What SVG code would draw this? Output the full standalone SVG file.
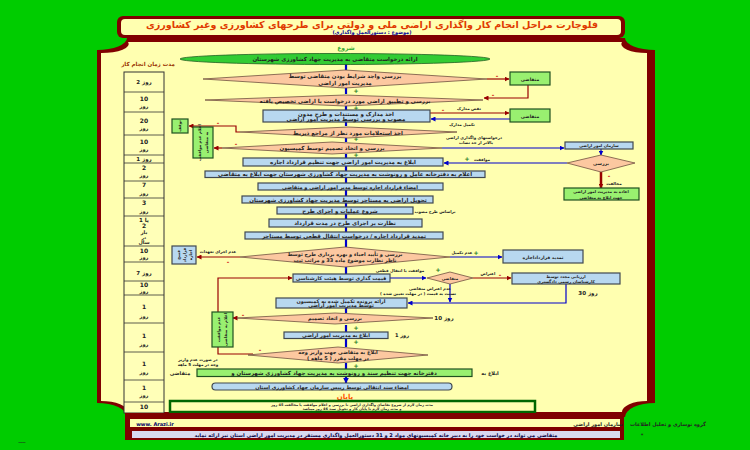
<svg xmlns="http://www.w3.org/2000/svg" width="750" height="450" viewBox="0 0 750 450">
<defs>
<style>
text{font-family:"DejaVu Sans",sans-serif;text-anchor:middle;font-weight:bold;fill:#222}
.f4{font-size:4px}.f45{font-size:4.5px}.f5{font-size:5px}.f55{font-size:5.5px}.f6{font-size:6px}
.dia{fill:#fcc8a0;stroke:#705040;stroke-width:0.8}
.rb{fill:#b8d8f0;stroke:#404850;stroke-width:1.2}
.gb{fill:#99f070;stroke:#205020;stroke-width:1.2}
.bl{fill:none;stroke:#0000cc;stroke-width:1.2}
.bc{fill:none;stroke:#0000cc;stroke-width:2.2}
.rd{fill:none;stroke:#990000;stroke-width:1.2}
.plus{fill:#227722;font-size:6px}
.minus{fill:#cc0000;font-size:6px}
.tl{fill:none;stroke:#333;stroke-width:0.8}
</style>
<marker id="ab" viewBox="0 0 10 10" refX="9" refY="5" markerWidth="5" markerHeight="5" markerUnits="userSpaceOnUse" orient="auto"><path d="M0,0 L10,5 L0,10 z" fill="#0000cc"/></marker>
<marker id="abc" viewBox="0 0 10 10" refX="9" refY="5" markerWidth="6" markerHeight="7" markerUnits="userSpaceOnUse" orient="auto"><path d="M0,0 L10,5 L0,10 z" fill="#0000cc"/></marker>
<marker id="ar" viewBox="0 0 10 10" refX="9" refY="5" markerWidth="5" markerHeight="5" markerUnits="userSpaceOnUse" orient="auto"><path d="M0,0 L10,5 L0,10 z" fill="#990000"/></marker>
</defs>
<rect x="0" y="0" width="750" height="450" fill="#00cc00"/>
<g id="frame">
<path d="M127,38 L625,38 A30 12 0 0 0 655 50 L655 403 A30 14 0 0 0 625 417 L127 417 A30 14 0 0 0 97 403 L97 50 A30 12 0 0 0 127 38 Z" fill="#800000"/>
<path d="M128,42 L622,42 A25 9 0 0 0 647 53 L647 401 A25 11 0 0 0 622 412 L128 412 A27 11 0 0 0 101 401 L101 53 A27 9 0 0 0 128 42 Z" fill="#ffffb0"/>
<rect x="117" y="16" width="508" height="22" rx="6" fill="#800000"/>
<rect x="121" y="19" width="500" height="16" rx="4" fill="#ffffb0"/>
<text x="372" y="27.8" style="font-size:9.6px;fill:#e03a00">فلوچارت مراحل انجام کار واگذاری اراضی ملی و دولتی برای طرحهای کشاورزی وغیر کشاورزی</text>
<text x="372" y="33.6" style="font-size:5px;fill:#000099">(موضوع : دستورالعمل واگذاری)</text>
</g>
<g id="timeline">
<text x="148" y="66" class="f55" style="fill:#993300">مدت زمان انجام کار</text>
<rect x="124" y="72" width="40" height="341" fill="#ffffb8" stroke="#333" stroke-width="1"/>
<path class="tl" d="M124,92H164M124,112H164M124,135H164M124,155H164M124,163H164M124,181H164M124,198H164M124,216H164M124,246H164M124,262H164M124,281H164M124,295H164M124,323H164M124,352H164M124,380H164M124,402H164"/>
<text x="144" y="84" class="f55">2 روز</text>
<text x="144" y="101" class="f6">10</text><text x="144" y="108" class="f5">روز</text>
<text x="144" y="123" class="f6">20</text><text x="144" y="130" class="f5">روز</text>
<text x="144" y="144" class="f6">10</text><text x="144" y="151" class="f5">روز</text>
<text x="144" y="161" class="f55">1 روز</text>
<text x="144" y="170" class="f6">2</text><text x="144" y="177" class="f5">روز</text>
<text x="144" y="187" class="f6">7</text><text x="144" y="195" class="f5">روز</text>
<text x="144" y="205" class="f6">3</text><text x="144" y="213" class="f5">روز</text>
<text x="144" y="222" class="f55">1 یا</text><text x="144" y="228" class="f6">2</text><text x="144" y="234" class="f5">بار</text><text x="144" y="238.5" class="f4">در</text><text x="144" y="243.5" class="f5">سال</text>
<text x="144" y="253" class="f6">10</text><text x="144" y="259" class="f5">روز</text>
<text x="144" y="275" class="f55">7 روز</text>
<text x="144" y="287" class="f6">10</text><text x="144" y="293" class="f5">روز</text>
<text x="144" y="309" class="f6">1</text><text x="144" y="318" class="f5">روز</text>
<text x="144" y="338" class="f6">1</text><text x="144" y="346" class="f5">روز</text>
<text x="144" y="366" class="f6">1</text><text x="144" y="374" class="f5">روز</text>
<text x="144" y="390" class="f6">1</text><text x="144" y="397" class="f5">روز</text>
<text x="144" y="409" class="f6">10</text>
</g>
<g id="connectors">
<path class="bc" marker-end="url(#abc)" d="M346,64V70M346,88V94M346,106V110M346,122V126M346,138V142M346,154V158M346,166V171M346,177V183M346,190V196M346,203V207M346,214V219M346,227V232M346,239V247M346,267V274M346,308V313M346,325V332M346,338V347M346,363V369M346,377V383"/>
<path class="rd" marker-end="url(#ar)" d="M487,79H509"/>
<path class="rd" marker-end="url(#ar)" d="M528,85V98H484"/>
<path class="rd" marker-end="url(#ar)" d="M430,113H509"/>
<path class="bl" marker-end="url(#ab)" d="M510,119H431"/>
<path class="rd" marker-end="url(#ar)" d="M240,132H236V126H189"/>
<path class="rd" marker-end="url(#ar)" d="M222,148H214"/>
<path class="bl" marker-end="url(#ab)" d="M442,148H564"/>
<path class="bl" marker-end="url(#ab)" d="M601,149V155"/>
<path class="bl" marker-end="url(#ab)" d="M567,163H444"/>
<path fill="none" stroke="#990000" stroke-width="2.5" marker-end="url(#ar)" d="M601,172V188"/>
<path class="rd" marker-end="url(#ar)" d="M240,257H197"/>
<path class="bl" marker-end="url(#ab)" d="M450,257H502"/>
<path class="bl" marker-end="url(#ab)" d="M390,278H426"/>
<path class="rd" marker-end="url(#ar)" d="M473,278H511"/>
<path class="bl" marker-end="url(#ab)" d="M566,284V303H408"/>
<path class="bl" stroke-width="2" marker-end="url(#ab)" d="M450,284V302"/>
<path class="rd" stroke-width="2" marker-end="url(#ar)" d="M253,354H218V278H292"/>
<path class="rd" marker-end="url(#ar)" d="M237,318H233"/>
<text x="356" y="93" class="plus">+</text>
<text x="356" y="110" class="plus">+</text>
<text x="356" y="141" class="plus">+</text>
<text x="356" y="157" class="plus">+</text>
<text x="356" y="330" class="plus">+</text>
<text x="356" y="344" class="plus">+</text>
<text x="356" y="368" class="plus">+</text>
<text x="497" y="78" class="minus">-</text>
<text x="493" y="97" class="minus">-</text>
<text x="443" y="112" class="minus">-</text>
<text x="218" y="125" class="minus">-</text>
<text x="236" y="146" class="minus">-</text>
<text x="609" y="178" class="minus">-</text>
<text x="228" y="264" class="minus">-</text>
<text x="500" y="277" class="minus">-</text>
<text x="260" y="352" class="minus">-</text>
<text x="243" y="317" class="minus">-</text>
<text x="469" y="110" class="f4">نقص مدارک</text>
<text x="462" y="126" class="f4">تکمیل مدارک</text>
<text x="474" y="139" class="f4">درخواستهای  واگذاری اراضی</text>
<text x="476" y="144" class="f4">بالاتر از حد نصاب</text>
<text x="482" y="161" class="f4">موافقت</text>
<text x="467" y="161" class="plus">+</text>
<text x="614" y="185" class="f4">مخالفت</text>
<text x="218" y="253" class="f4">عدم اجرای تعهدات</text>
<text x="462" y="254" class="f4">عدم تکمیل</text>
<text x="476" y="255" class="plus">+</text>
<text x="400" y="271.5" class="f4">موافقت با انتقال قطعی</text>
<text x="438" y="271.5" class="plus">+</text>
<text x="488" y="275" class="f4">اعتراض</text>
<text x="430" y="290" class="f4">عدم اعتراض متقاضی</text>
<text x="418" y="295" class="f4">نسبت به قیمت ( در مهلت تعیین شده )</text>
<text x="588" y="295" class="f55">30 روز</text>
<text x="435" y="213" class="f4">براساس طرح مصوب</text>
<text x="444" y="320" class="f55">10 روز</text>
<text x="402" y="337" class="f5">1 روز</text>
<text x="198" y="361" class="f4">در صورت عدم واریز</text>
<text x="198" y="366" class="f4">وجه در مهلت 5 ماهه</text>
</g>
<g id="n-start"><text x="346" y="50" style="font-size:6px;fill:#33aa33">شروع</text>
<ellipse cx="335" cy="59" rx="155" ry="5.5" fill="#33cc33" stroke="#206020" stroke-width="0.8"/>
<text x="335" y="61" class="f55">ارائه درخواست متقاضی به مدیریت جهاد کشاورزی شهرستان</text></g>
<g id="n-d1"><polygon class="dia" points="203,79 345,70 487,79 345,88"/>
<text x="345" y="78" class="f55">بررسی واجد شرایط بودن متقاضی توسط</text><text x="345" y="84.5" class="f55">مدیریت امور اراضی</text></g>
<g id="n-m1"><rect class="gb" x="510" y="72" width="40" height="13"/><text x="530" y="80.5" class="f45">متقاضی</text></g>
<g id="n-d2"><polygon class="dia" points="205,100 345,95 483,100 345,106"/>
<text x="345" y="102.5" class="f55">بررسی و تطبیق اراضی مورد درخواست با اراضی تخصیص یافته</text></g>
<g id="n-r3"><rect class="rb" x="263" y="110" width="167" height="12"/>
<text x="346" y="115.5" class="f55">اخذ مدارک و مستندات و طرح مدون</text><text x="346" y="121" class="f55">مصوب و بررسی توسط مدیریت امور اراضی</text></g>
<g id="n-m2"><rect class="gb" x="510" y="109" width="40" height="13"/><text x="530" y="117.5" class="f45">متقاضی</text></g>
<g id="n-d4"><polygon class="dia" points="240,132 348,127 457,132 348,138"/>
<text x="348" y="134.5" class="f55">اخذ استعلامات مورد نظر از مراجع ذیربط</text></g>
<g id="n-a"><rect class="gb" x="172" y="119" width="16" height="14"/><text transform="translate(181,126) rotate(-90)" class="f4">توقف</text></g>
<g id="n-d5"><polygon class="dia" points="222,148 332,142 442,148 332,154"/>
<text x="332" y="150" class="f55">بررسی و اتخاذ تصمیم توسط کمیسیون</text></g>
<g id="n-b"><rect class="gb" x="193" y="127" width="20" height="31"/><text transform="translate(201,142.5) rotate(-90)" class="f4">اعلام عدم موافقت</text><text transform="translate(208,142.5) rotate(-90)" class="f4">به متقاضی</text></g>
<g id="n-org"><rect class="rb" x="565" y="142" width="68" height="7"/><text x="599" y="147.3" class="f4">سازمان امور اراضی</text></g>
<g id="n-chk"><polygon class="dia" points="567,163 601,155 635,163 601,172"/><text x="601" y="165" class="f45">بررسی</text></g>
<g id="n-ret"><rect class="gb" x="564" y="188" width="75" height="12"/><text x="601" y="193" class="f4">اعاده به مدیریت امور اراضی</text><text x="601" y="198.5" class="f4">جهت ابلاغ به متقاضی</text></g>
<g id="n-r6"><rect class="rb" x="243" y="158" width="200" height="8"/><text x="343" y="164" class="f55">ابلاغ به مدیریت امور اراضی جهت تنظیم قرارداد اجاره</text></g>
<g id="n-r7"><rect class="rb" x="205" y="171" width="280" height="6.5"/><text x="345" y="176.3" class="f55">اعلام به دفترخانه عامل و رونوشت به مدیریت جهاد کشاورزی شهرستان جهت ابلاغ به متقاضی</text></g>
<g id="n-r8"><rect class="rb" x="258" y="183" width="185" height="7"/><text x="350" y="188.6" class="f5">امضاء قرارداد اجاره توسط مدیر امور اراضی و متقاضی</text></g>
<g id="n-r9"><rect class="rb" x="242" y="196" width="191" height="7"/><text x="338" y="201.6" class="f55">تحویل اراضی به مستاجر توسط مدیریت جهاد کشاورزی شهرستان</text></g>
<g id="n-r10"><rect class="rb" x="277" y="207" width="136" height="7"/><text x="340" y="212.6" class="f55">شروع عملیات و اجرای طرح</text></g>
<g id="n-r11"><rect class="rb" x="269" y="219" width="153" height="8"/><text x="345" y="225" class="f55">نظارت بر اجرای طرح در مدت قرارداد</text></g>
<g id="n-r12"><rect class="rb" x="245" y="232" width="198" height="7"/><text x="344" y="237.6" class="f55">تمدید قرارداد اجاره / درخواست انتقال قطعی توسط مستاجر</text></g>
<g id="n-d13"><polygon class="dia" points="240,257 345,247 450,257 345,267"/>
<text x="345" y="256" class="f5">بررسی و تأیید احیاء و بهره برداری طرح توسط</text><text x="345" y="262" class="f5">ناظر نظارت موضوع ماده 33 و مراتب ثبت</text></g>
<g id="n-c"><rect class="rb" x="172" y="246" width="24" height="18"/><text transform="translate(180,255) rotate(-90)" class="f4">فسخ</text><text transform="translate(186,255) rotate(-90)" class="f4">قرارداد</text><text transform="translate(192,255) rotate(-90)" class="f4">اجاره</text></g>
<g id="n-ext"><rect class="rb" x="503" y="250" width="80" height="13"/><text x="543" y="258.5" class="f45">تمدید قرارداداجاره</text></g>
<g id="n-r14"><rect class="rb" x="293" y="274" width="97" height="8"/><text x="341" y="280" class="f5">قیمت گذاری توسط هیئت کارشناسی</text></g>
<g id="n-d14"><polygon class="dia" points="427,278 450,272 473,278 450,284"/><text x="450" y="280" class="f4">متقاضی</text></g>
<g id="n-rev"><rect class="rb" x="512" y="273" width="108" height="11"/><text x="566" y="277.8" class="f4">ارزیابی مجدد توسط</text><text x="566" y="282.8" class="f4">کارشناسان رسمی دادگستری</text></g>
<g id="n-r15"><rect class="rb" x="276" y="298" width="131" height="10"/><text x="341" y="302.6" class="f5">ارائه پرونده تکمیل شده به کمیسیون</text><text x="341" y="307.4" class="f5">توسط مدیریت امور اراضی</text></g>
<g id="n-d16"><polygon class="dia" points="237,318 335,313 433,318 335,324"/><text x="335" y="320.2" class="f5">بررسی و اتخاذ تصمیم</text></g>
<g id="n-d"><rect class="gb" x="212" y="312" width="21" height="35"/><text transform="translate(220,329.5) rotate(-90)" class="f4">عدم موافقت</text><text transform="translate(227,329.5) rotate(-90)" class="f4">اعلام به متقاضی</text></g>
<g id="n-r17"><rect class="rb" x="284" y="332" width="104" height="6.5"/><text x="336" y="337.3" class="f5">ابلاغ به مدیریت امور اراضی</text></g>
<g id="n-d18"><polygon class="dia" points="248,355 338,347 428,355 338,363"/><text x="338" y="354" class="f5">ابلاغ به متقاضی جهت واریز وجه</text><text x="338" y="360" class="f5">در مهلت مقرر ( 5 ماهه )</text></g>
<g id="n-r19"><rect class="gb" x="197" y="369" width="275" height="7.5"/><text x="334" y="375" class="f55">دفترخانه جهت تنظیم سند و رونوشت به مدیریت جهاد کشاورزی شهرستان و</text>
<text x="180" y="375" class="f5">متقاضی</text><text x="490" y="375" class="f5">ابلاغ به</text></g>
<g id="n-r20"><rect x="212" y="383" width="240" height="7" rx="3.5" fill="#b8d8f0" stroke="#404850" stroke-width="1.2"/><text x="332" y="388.6" class="f5">امضاء سند انتقالی توسط رییس سازمان جهاد کشاورزی استان</text></g>
<g id="n-end"><text x="345" y="399" style="font-size:7px;fill:#ff5500">پایان</text></g>
<g id="n-note"><rect x="170" y="401" width="365" height="11" fill="#ffffb0" stroke="#006600" stroke-width="2.5"/>
<text x="352" y="405.8" style="font-size:3.5px">مدت زمان لازم از شروع تقاضای واگذاری اراضی تا بررسی و اعلام موافقت یا مخالفت 45 روز</text>
<text x="352" y="410.3" style="font-size:3.5px">و مدت زمان لازم تا پایان کار و تحویل سند 46 روز میباشد</text></g>
<g id="footer">
<rect x="125" y="413" width="499" height="27" fill="#800000"/>
<rect x="130" y="419" width="490" height="8" fill="#ffffb0"/>
<text x="155" y="425.5" class="f5" style="fill:#000066">www. Arazi.ir</text>
<text x="598" y="425.5" class="f5">سازمان امور اراضی</text>
<rect x="132" y="431" width="488" height="7" fill="#d8d8f0"/>
<text x="376" y="436.5" class="f5" style="fill:#000044">متقاضی می تواند در خواست خود را به دبیر خانه کمیسیونهای مواد 2 و 31 دستورالعمل واگذاری مستقر در مدیریت امور اراضی استان نیز ارائه نماید</text>
<text x="668" y="426" class="f5">گروه نوسازی و تحلیل اطلاعات</text>
<text x="642" y="437" class="f5">*</text>
<text x="22" y="443" class="f4">ـــــ</text>
</g>
</svg>
